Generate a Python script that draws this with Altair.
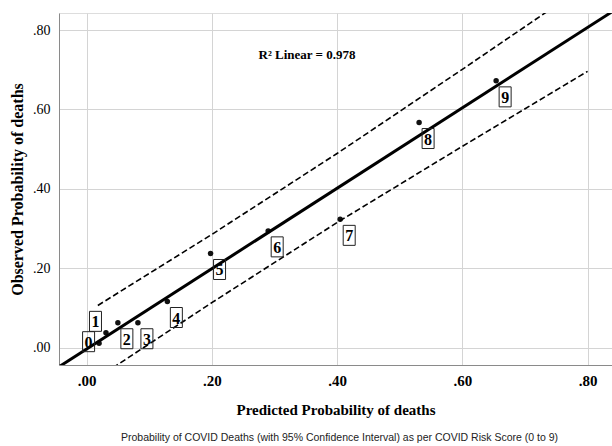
import altair as alt
import pandas as pd

# Risk score groups (0-9)
scores = [0, 1, 2, 3, 4, 5, 6, 7, 8, 9]
predicted = [0.020, 0.031, 0.050, 0.082, 0.129, 0.198, 0.290, 0.405, 0.531, 0.654]
observed = [0.011, 0.037, 0.0625, 0.0625, 0.116, 0.237, 0.294, 0.323, 0.567, 0.672]

# 95% interval bands
ci_x = [0.018, 0.2, 0.4, 0.6, 0.8]
ci_upper = [0.106, 0.285, 0.489, 0.701, 0.916]
ci_lower = [-0.076, 0.113, 0.315, 0.507, 0.696]

x_ticks = [0.0, 0.2, 0.4, 0.6, 0.8]
y_ticks = [0.0, 0.2, 0.4, 0.6, 0.8]
x_domain = [-0.044, 0.839]
y_domain = [-0.044, 0.843]

r2_text = "R\u00b2 Linear = 0.978"
r2_pos = [0.352, 0.737]

pts = pd.DataFrame({"score": [str(s) for s in scores], "pred": predicted, "obs": observed})
ci = pd.DataFrame({"x": ci_x, "upper": ci_upper, "lower": ci_lower})
r2 = pd.DataFrame({"x": [r2_pos[0]], "y": [r2_pos[1]], "t": [r2_text]})

SERIF = "Liberation Serif"
lbl_expr = "replace(format(datum.value, '.2f'), '0.', '.')"

xs = alt.Scale(domain=x_domain, nice=False, zero=False)
ys = alt.Scale(domain=y_domain, nice=False, zero=False)

X = alt.X("pred:Q", scale=xs,
          axis=alt.Axis(values=x_ticks, labelExpr=lbl_expr, title="Predicted Probability of deaths",
                        labelFont=SERIF, labelFontSize=15, labelFontWeight="bold", labelColor="#000",
                        titleFont=SERIF, titleFontSize=15, titleFontWeight="bold", titleColor="#000",
                        labelPadding=8, titlePadding=14, ticks=False,
                        domainColor="#8a8a8a", gridColor="#d4d4d4"))
Y = alt.Y("obs:Q", scale=ys,
          axis=alt.Axis(values=y_ticks, labelExpr=lbl_expr, title="Observed Probability of deaths",
                        labelFont=SERIF, labelFontSize=14, labelColor="#000",
                        titleFont=SERIF, titleFontSize=16, titleFontWeight="bold", titleColor="#000",
                        labelPadding=9, titlePadding=7, ticks=False,
                        domainColor="#8a8a8a", gridColor="#d4d4d4"))

base = alt.Chart(pts)

points = base.mark_circle(size=30, color="#111", opacity=1).encode(x=X, y=Y)

fit = base.transform_regression("pred", "obs", extent=x_domain).mark_line(
    color="#000", strokeWidth=3, clip=True).encode(
    x=alt.X("pred:Q", scale=xs), y=alt.Y("obs:Q", scale=ys))

upper = alt.Chart(ci).mark_line(color="#000", strokeWidth=1.6, strokeDash=[6, 3], clip=True).encode(
    x=alt.X("x:Q", scale=xs), y=alt.Y("upper:Q", scale=ys))
lower = alt.Chart(ci).mark_line(color="#000", strokeWidth=1.6, strokeDash=[6, 3], clip=True).encode(
    x=alt.X("x:Q", scale=xs), y=alt.Y("lower:Q", scale=ys))

BOX = "M-0.6,-1L0.6,-1L0.6,1L-0.6,1Z"


def label_layer(filt, dx, dy):
    sub = base.transform_filter(filt)
    box = sub.mark_point(shape=BOX, size=400, filled=False, stroke="#222", strokeWidth=1,
                         opacity=1, xOffset=dx, yOffset=dy).encode(
        x=alt.X("pred:Q", scale=xs), y=alt.Y("obs:Q", scale=ys))
    txt = sub.mark_text(font=SERIF, fontSize=16, fontWeight="bold", color="#000",
                        align="center", baseline="middle", dx=dx, dy=dy + 1).encode(
        x=alt.X("pred:Q", scale=xs), y=alt.Y("obs:Q", scale=ys), text="score:N")
    return box + txt


lab_main = label_layer("datum.score != '0' && datum.score != '1'", 9, 16)
lab0 = label_layer("datum.score == '0'", -10.5, -1.5)
lab1 = label_layer("datum.score == '1'", -10.5, -11.5)

r2_layer = alt.Chart(r2).mark_text(font=SERIF, fontSize=13, fontWeight="bold", color="#000",
                                   align="center", baseline="middle").encode(
    x=alt.X("x:Q", scale=xs), y=alt.Y("y:Q", scale=ys), text="t:N")

chart = alt.layer(points, fit, upper, lower, lab_main, lab0, lab1, r2_layer).properties(
    width=553, height=352,
    title=alt.TitleParams(
        "Probability of COVID Deaths (with 95% Confidence Interval) as per COVID Risk Score (0 to 9)",
        orient="bottom", anchor="middle", font="Liberation Sans", fontSize=10.5,
        fontWeight="normal", color="#222", offset=16, dx=4),
    padding={"left": 59, "top": 13, "right": 0, "bottom": 81},
    autosize=alt.AutoSizeParams(type="none"),
).configure_view(stroke=None).configure(background="white")

chart.save("out.html", embed_options={"renderer": "svg", "actions": False})
